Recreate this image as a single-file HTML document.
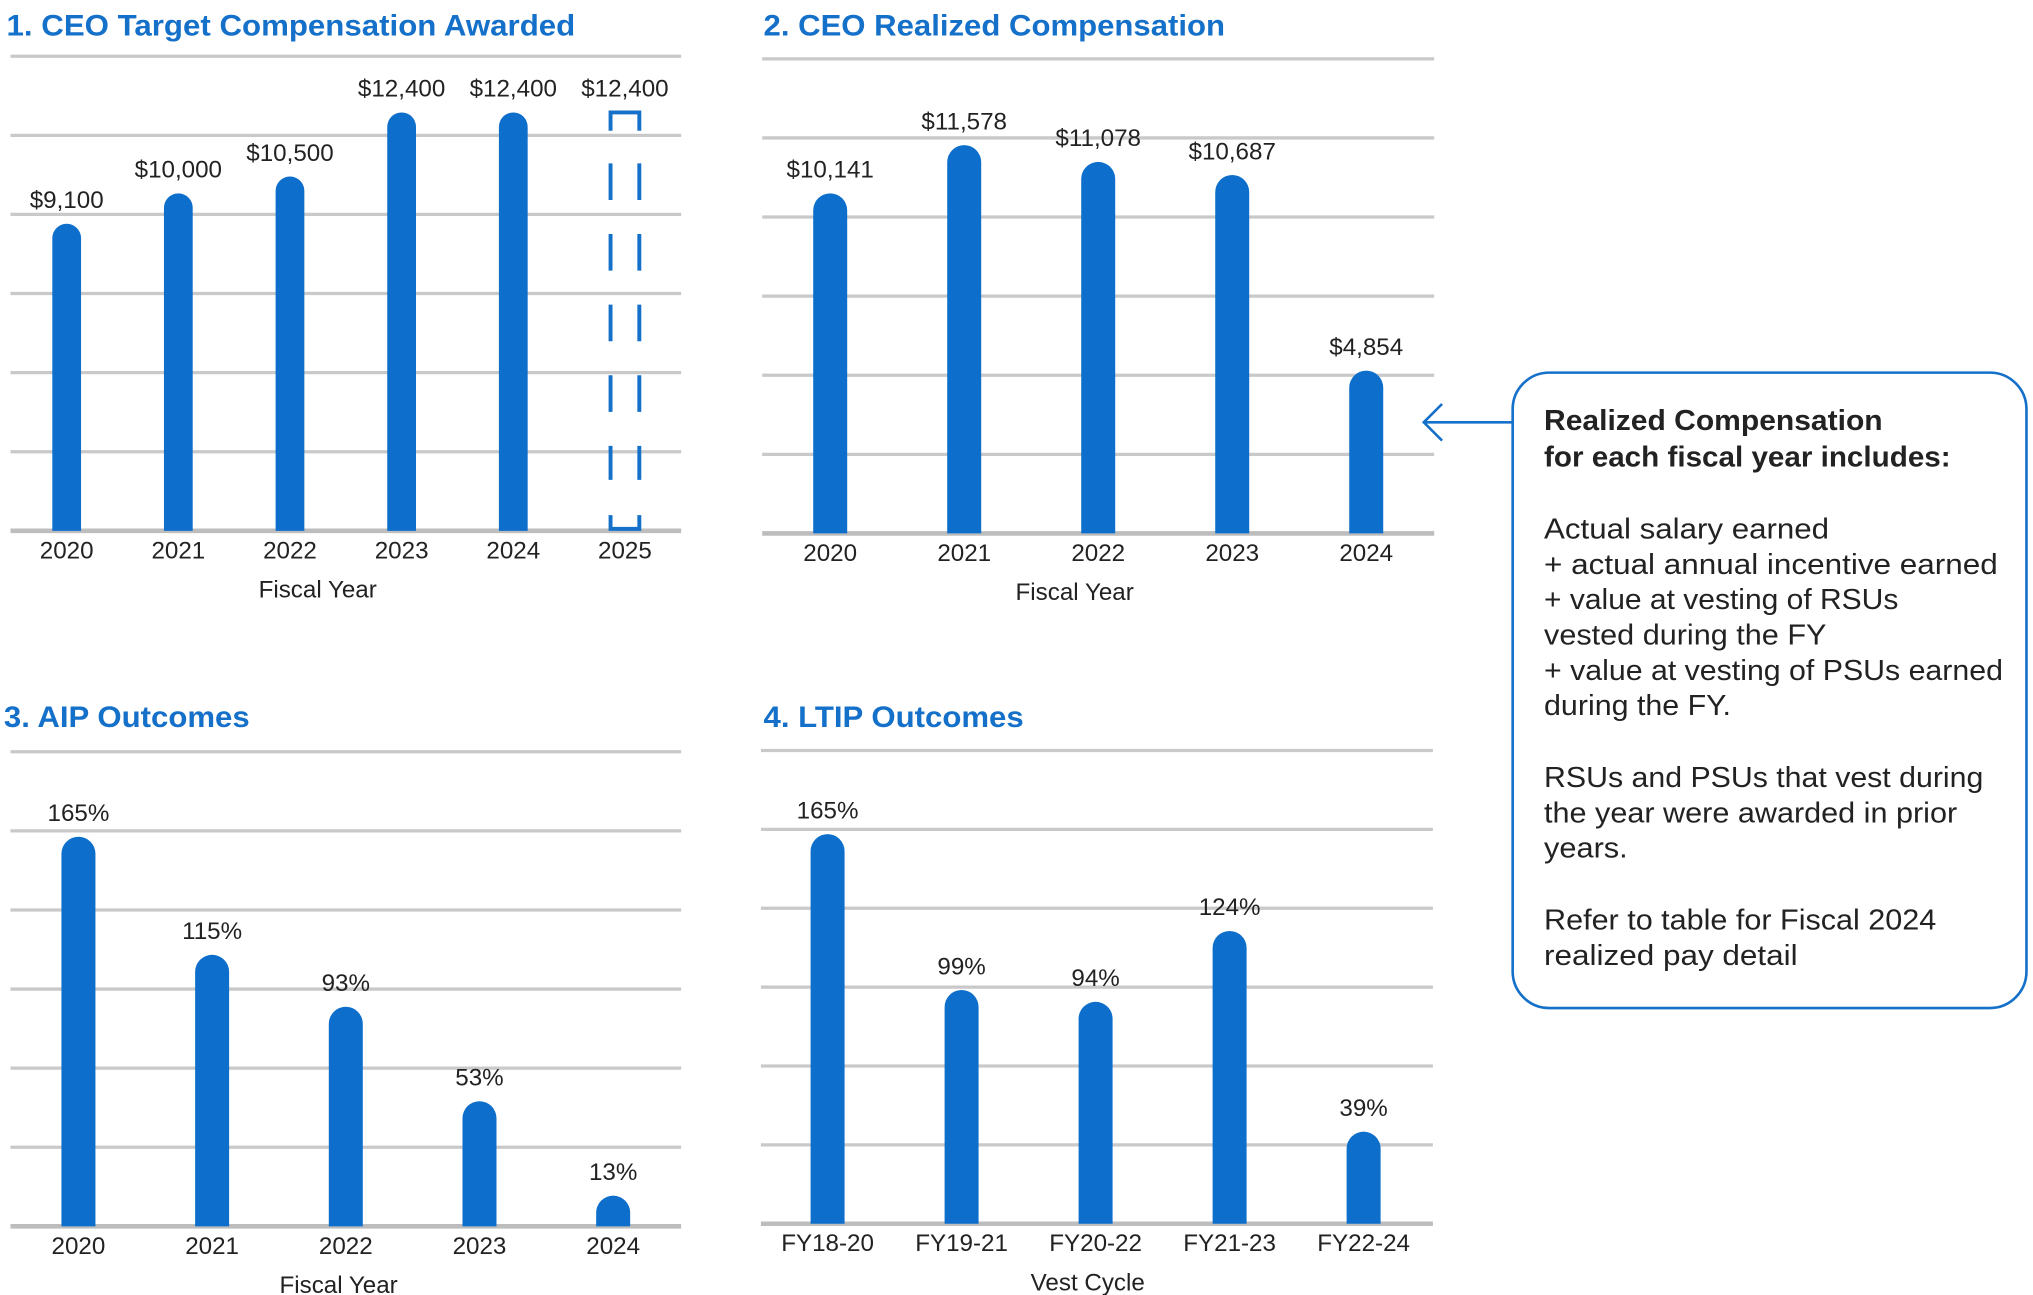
<!DOCTYPE html>
<html><head><meta charset="utf-8"><style>
html,body{margin:0;padding:0;background:#fff}
svg{display:block}
text{font-family:"Liberation Sans",sans-serif;fill:#222}
.title{fill:#1470c8;font-weight:bold}
</style></head><body>
<svg id="root" width="2033" height="1295" viewBox="0 0 1555 990.5" xmlns="http://www.w3.org/2000/svg">
<g id="c1"></g>
<g id="c2"></g>
<g id="c3"></g>
<g id="c4"></g>
<g>
  <path d="M1157 323 H1089 M1103 309 L1089 323 L1103 337" fill="none" stroke="#1470c8" stroke-width="2"/>
  <rect x="1157" y="285" width="393" height="486" rx="28" fill="none" stroke="#1470c8" stroke-width="2"/>
  <text x="1181" y="329" font-size="22" font-weight="bold" textLength="259" lengthAdjust="spacingAndGlyphs">Realized Compensation</text>
  <text x="1181" y="357" font-size="22" font-weight="bold" textLength="311" lengthAdjust="spacingAndGlyphs">for each fiscal year includes:</text>
  <text x="1181" y="412" font-size="22" textLength="218" lengthAdjust="spacingAndGlyphs">Actual salary earned</text>
  <text x="1181" y="439" font-size="22" textLength="347" lengthAdjust="spacingAndGlyphs">+ actual annual incentive earned</text>
  <text x="1181" y="466" font-size="22" textLength="271" lengthAdjust="spacingAndGlyphs">+ value at vesting of RSUs</text>
  <text x="1181" y="493" font-size="22" textLength="216" lengthAdjust="spacingAndGlyphs">vested during the FY</text>
  <text x="1181" y="520" font-size="22" textLength="351" lengthAdjust="spacingAndGlyphs">+ value at vesting of PSUs earned</text>
  <text x="1181" y="547" font-size="22" textLength="143" lengthAdjust="spacingAndGlyphs">during the FY.</text>
  <text x="1181" y="602" font-size="22" textLength="336" lengthAdjust="spacingAndGlyphs">RSUs and PSUs that vest during</text>
  <text x="1181" y="629" font-size="22" textLength="316" lengthAdjust="spacingAndGlyphs">the year were awarded in prior</text>
  <text x="1181" y="656" font-size="22" textLength="64" lengthAdjust="spacingAndGlyphs">years.</text>
  <text x="1181" y="711" font-size="22" textLength="300" lengthAdjust="spacingAndGlyphs">Refer to table for Fiscal 2024</text>
  <text x="1181" y="738" font-size="22" textLength="194" lengthAdjust="spacingAndGlyphs">realized pay detail</text>
</g>
</svg>
<script>
const NS="http://www.w3.org/2000/svg";
// Chart 1 data
const c1Cats=["2020","2021","2022","2023","2024","2025"];
const c1Vals=[9100,10000,10500,12400,12400,12400];
const c1Labels=["$9,100","$10,000","$10,500","$12,400","$12,400","$12,400"];
// Chart 2 data
const c2Cats=["2020","2021","2022","2023","2024"];
const c2Vals=[10141,11578,11078,10687,4854];
const c2Labels=["$10,141","$11,578","$11,078","$10,687","$4,854"];
// Chart 3 data
const c3Cats=["2020","2021","2022","2023","2024"];
const c3Vals=[165,115,93,53,13];
const c3Labels=["165%","115%","93%","53%","13%"];
// Chart 4 data
const c4Cats=["FY18-20","FY19-21","FY20-22","FY21-23","FY22-24"];
const c4Vals=[165,99,94,124,39];
const c4Labels=["165%","99%","94%","124%","39%"];

function mk(tag,attrs,parent,txt){const e=document.createElementNS(NS,tag);for(const k in attrs)e.setAttribute(k,attrs[k]);if(txt!==undefined)e.textContent=txt;parent.appendChild(e);return e;}

function chart(cfg){
  const g=document.getElementById(cfg.id);
  const t=mk('text',{x:cfg.tx,y:cfg.ty,'font-size':23,'class':'title',textLength:cfg.tw,lengthAdjust:'spacingAndGlyphs'},g,cfg.title);
  
  
  const step=(cfg.base-cfg.top)/6;
  for(let i=0;i<6;i++){
    const l=mk('line',{x1:cfg.x0,x2:cfg.x1,y1:cfg.top+i*step,y2:cfg.top+i*step,stroke:'#c9c9c9','stroke-width':2.5},g);
    
    
  }
  const b=mk('line',{x1:cfg.x0,x2:cfg.x1,y1:cfg.base,y2:cfg.base,stroke:'#bdbdbd','stroke-width':3.5},g);
  
  
  const n=cfg.cats.length;
  const xs=i=>cfg.cx0+i*(cfg.cx1-cfg.cx0)/(n-1);
  const ys=v=>cfg.base-v*cfg.k;
  const w=cfg.bw;
  cfg.cats.forEach((c,i)=>{
    const x=xs(i), y=ys(cfg.vals[i]), r=w/2;
    let bar;
    if(cfg.dashedLast && i===n-1){
      bar=mk('g',{fill:'none',stroke:'#1470c8','stroke-width':3},g);
      mk('path',{d:`M${x-r} ${y+14} V${y} H${x+r} V${y+14}`},bar);
      mk('path',{d:`M${x-r} ${cfg.base-12} V${cfg.base-1.5} H${x+r} V${cfg.base-12}`},bar);
      const y1=y+39, y2=cfg.base-39;
      mk('line',{x1:x-r,x2:x-r,y1:y1,y2:y2,'stroke-dasharray':'28 26'},bar);
      mk('line',{x1:x+r,x2:x+r,y1:y1,y2:y2,'stroke-dasharray':'28 26'},bar);
    } else {
      const d=`M${x-r} ${cfg.base} V${y+r} A${r} ${r} 0 0 1 ${x+r} ${y+r} V${cfg.base} Z`;
      bar=mk('path',{d:d,fill:'#0d6fcb'},g);
    }
    
    
    const vl=mk('text',{x:x,y:y-12,'font-size':18.5,'text-anchor':'middle'},g,cfg.labels[i]);
    
    
    const xl=mk('text',{x:x,y:cfg.base+21,'font-size':18.5,'text-anchor':'middle'},g,c);
    
    
  });
  const at=mk('text',{x:cfg.axx,y:cfg.base+51,'font-size':18.5,'text-anchor':'middle'},g,cfg.axis);
  
  
}
chart({id:'c1',title:'1. CEO Target Compensation Awarded',tx:5,ty:27,tw:435,x0:8,x1:521,top:43,base:406,cx0:51,cx1:478,bw:22,k:320/12400,cats:c1Cats,vals:c1Vals,labels:c1Labels,axis:'Fiscal Year',axx:243,dashedLast:true});
chart({id:'c2',title:'2. CEO Realized Compensation',tx:584,ty:27,tw:353,x0:583,x1:1097,top:45,base:408,cx0:635,cx1:1045,bw:26,k:297/11578,cats:c2Cats,vals:c2Vals,labels:c2Labels,axis:'Fiscal Year',axx:822});
chart({id:'c3',title:'3. AIP Outcomes',tx:3,ty:556,tw:188,x0:8,x1:521,top:575,base:938,cx0:60,cx1:469,bw:26,k:298/165,cats:c3Cats,vals:c3Vals,labels:c3Labels,axis:'Fiscal Year',axx:259});
chart({id:'c4',title:'4. LTIP Outcomes',tx:584,ty:556,tw:199,x0:582,x1:1096,top:574,base:936,cx0:633,cx1:1043,bw:26,k:298/165,cats:c4Cats,vals:c4Vals,labels:c4Labels,axis:'Vest Cycle',axx:832});
</script>
</body></html>
